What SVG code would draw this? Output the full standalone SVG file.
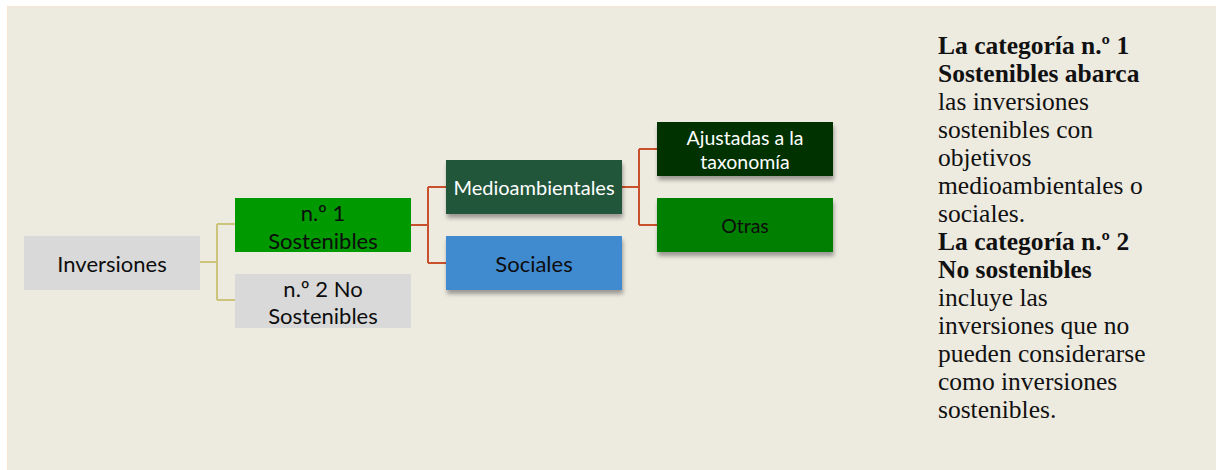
<svg xmlns="http://www.w3.org/2000/svg" width="1216" height="470" viewBox="0 0 1216 470">
<defs>
<filter id="sh" x="-10%" y="-20%" width="130%" height="160%">
<feGaussianBlur in="SourceAlpha" stdDeviation="2"/>
<feOffset dx="1" dy="4" result="b"/>
<feComponentTransfer><feFuncA type="linear" slope="0.35"/></feComponentTransfer>
<feMerge><feMergeNode/><feMergeNode in="SourceGraphic"/></feMerge>
</filter>
</defs>
<style>
.lbl{font-family:Lato,"Open Sans","Liberation Sans",sans-serif;text-anchor:middle;dominant-baseline:central}
.blk{fill:#0d0d0d}
.wht{fill:#ffffff}
.conA{fill:none;stroke:#CCC47A;stroke-width:2}
.conB{fill:none;stroke:#C9502C;stroke-width:2}
.side{font-family:"Liberation Serif","DejaVu Serif",serif;font-size:25.5px;fill:#111}
.b{font-weight:bold}
</style>
<rect x="0" y="0" width="1216" height="470" fill="#ffffff"/>
<rect x="7.5" y="6.5" width="1210" height="466" fill="#EDEAE0" stroke="#F8E5D2" stroke-width="1"/>

<g id="connectors">
<path class="conA" d="M200 262 H217 M217 224 V300 M217 224 H235 M217 300 H235"/>
<path class="conB" d="M411 225 H428 M428 187 V263 M428 187 H446 M428 263 H446"/>
<path class="conB" d="M622 187 H639 M639 149 V225 M639 149 H657 M639 225 H657"/>
</g>

<g id="inversiones">
<rect x="24" y="236" width="176" height="54" fill="#D9D9D9"/>
<text class="lbl blk" x="112" y="263" font-size="22">Inversiones</text>
</g>
<g id="n1">
<rect x="235" y="198" width="176" height="54" fill="#009900"/>
<text class="lbl blk" x="323" y="212" font-size="22">n.º 1</text>
<text class="lbl blk" x="323" y="240" font-size="22">Sostenibles</text>
</g>
<g id="n2">
<rect x="235" y="274" width="176" height="54" fill="#D9D9D9"/>
<text class="lbl blk" x="323" y="288" font-size="22">n.º 2 No</text>
<text class="lbl blk" x="323" y="315" font-size="22">Sostenibles</text>
</g>
<g id="medioambientales">
<rect x="446" y="160" width="176" height="54" fill="#24563A" filter="url(#sh)"/>
<text class="lbl wht" x="534" y="187" font-size="20">Medioambientales</text>
</g>
<g id="sociales">
<rect x="446" y="236" width="176" height="54" fill="#3F8BD0" filter="url(#sh)"/>
<text class="lbl blk" x="534" y="263" font-size="22">Sociales</text>
</g>
<g id="ajustadas">
<rect x="657" y="122" width="176" height="54" fill="#003300" filter="url(#sh)"/>
<text class="lbl wht" x="745" y="137" font-size="19.5">Ajustadas a la</text>
<text class="lbl wht" x="745" y="161" font-size="19.5">taxonomía</text>
</g>
<g id="otras">
<rect x="657" y="198" width="176" height="54" fill="#007F00" filter="url(#sh)"/>
<text class="lbl blk" x="745" y="225" font-size="19.5">Otras</text>
</g>

<g id="description">
<text class="side" x="938">
<tspan class="b" x="938" y="54">La categoría n.º 1</tspan>
<tspan class="b" x="938" y="82">Sostenibles abarca</tspan>
<tspan x="938" y="110">las inversiones</tspan>
<tspan x="938" y="138">sostenibles con</tspan>
<tspan x="938" y="166">objetivos</tspan>
<tspan x="938" y="194">medioambientales o</tspan>
<tspan x="938" y="222">sociales.</tspan>
<tspan class="b" x="938" y="250">La categoría n.º 2</tspan>
<tspan class="b" x="938" y="278">No sostenibles</tspan>
<tspan x="938" y="306">incluye las</tspan>
<tspan x="938" y="334">inversiones que no</tspan>
<tspan x="938" y="362">pueden considerarse</tspan>
<tspan x="938" y="390">como inversiones</tspan>
<tspan x="938" y="418">sostenibles.</tspan>
</text>
</g>
</svg>
